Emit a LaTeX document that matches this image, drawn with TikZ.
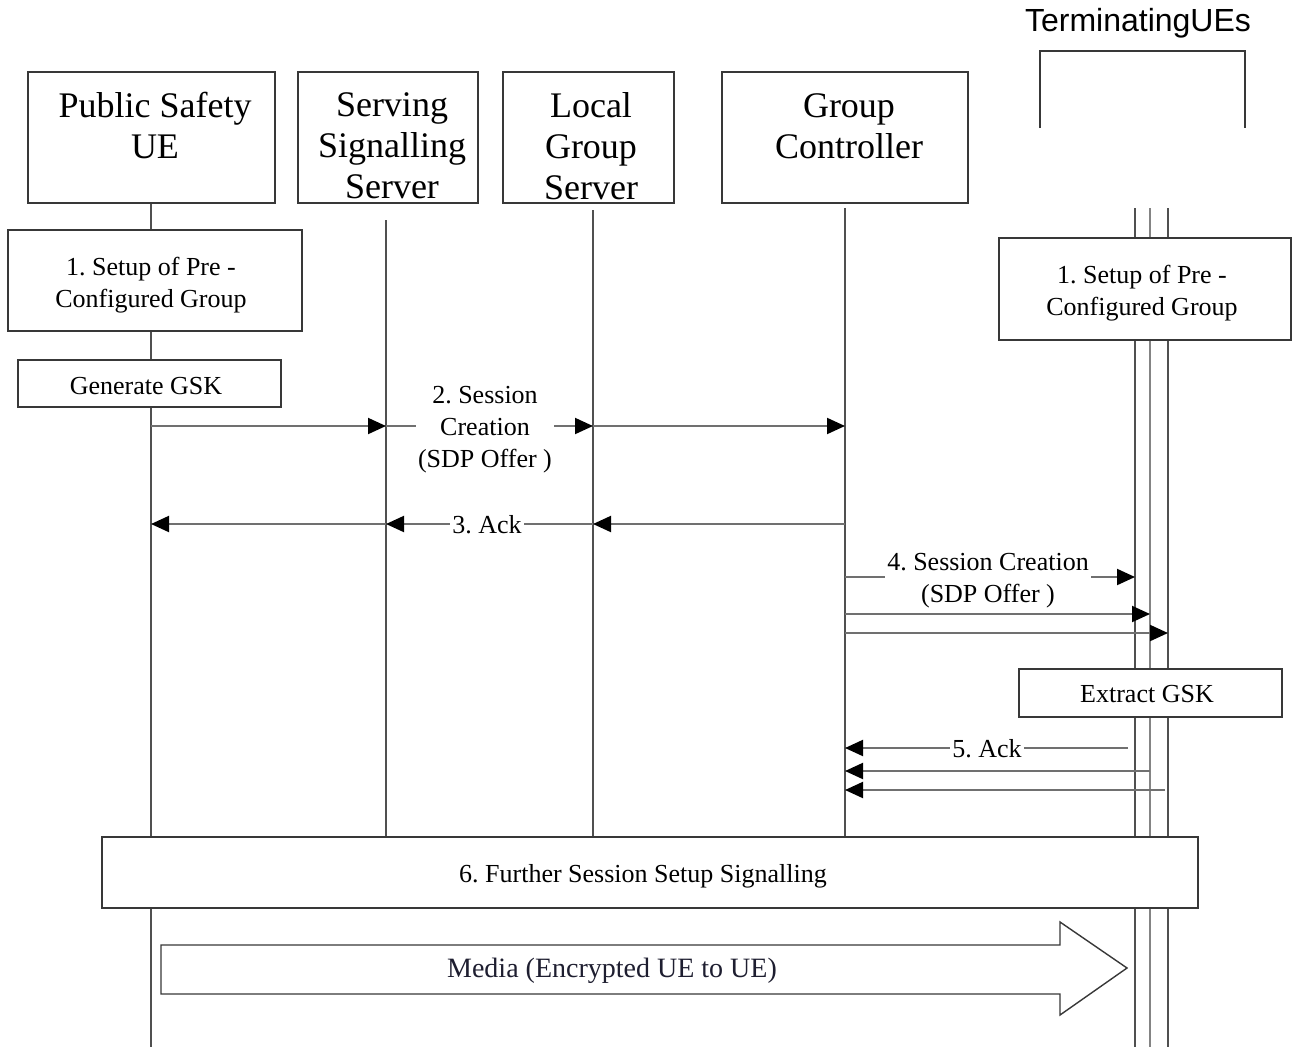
\documentclass[tikz,border=0pt]{standalone}
\usepackage{fontspec}
\setmainfont{Liberation Serif}
\newfontfamily\arialfont{Liberation Sans}
\usetikzlibrary{arrows.meta,calc}
\frenchspacing

\definecolor{boxcol}{HTML}{383838}
\definecolor{lifecol}{HTML}{505050}
\definecolor{msgcol}{HTML}{707070}
\definecolor{mediatext}{HTML}{1E1E30}

\begin{document}
\begin{tikzpicture}[x=1pt,y=-1pt,
  box/.style={draw=boxcol, line width=1.6pt, fill=white, inner sep=0pt},
  boxtext/.style={inner sep=0pt, font=\fontsize{26}{32}\selectfont, align=center},
  hdrtext/.style={font=\fontsize{36}{41}\selectfont, align=center,
    inner sep=0pt, anchor=north},
  life/.style={draw=lifecol, line width=1.6pt},
  lifelight/.style={draw=lifecol!70, line width=1.6pt},
  msg/.style={draw=msgcol, line width=2pt,
    -{Triangle[length=18pt,width=16pt,color=black]}},
  lbl/.style={fill=white, inner sep=2pt, font=\fontsize{26}{32}\selectfont,
    align=center}
]
\useasboundingbox (0,0) rectangle (1292,1047);

% lifeline x positions
\coordinate (xA) at (151,0);
\coordinate (xB) at (386,0);
\coordinate (xC) at (593,0);
\coordinate (xD) at (845,0);
\coordinate (xT1) at (1135,0);
\coordinate (xT2) at (1150,0);
\coordinate (xT3) at (1168,0);

% message rows
\coordinate (r2) at (0,426);
\coordinate (r3) at (0,524);
\coordinate (r4) at (0,577);
\coordinate (r4b) at (0,614);
\coordinate (r4c) at (0,633);
\coordinate (r5) at (0,748);
\coordinate (r5b) at (0,771);
\coordinate (r5c) at (0,790);

% lifeline ends
\coordinate (aTop) at (151,203);   \coordinate (aBot) at (151,1047);
\coordinate (bTop) at (386,220);   \coordinate (bBot) at (386,836);
\coordinate (cTop) at (593,210);   \coordinate (cBot) at (593,836);
\coordinate (dTop) at (845,208);   \coordinate (dBot) at (845,836);
\coordinate (t1Top) at (1135,208); \coordinate (t1Bot) at (1135,1047);
\coordinate (t2Top) at (1150,208); \coordinate (t2Bot) at (1150,1047);
\coordinate (t3Top) at (1168,208); \coordinate (t3Bot) at (1168,1047);

% lifelines
\draw[life] (aTop) -- (aBot);
\draw[life] (bTop) -- (bBot);
\draw[life] (cTop) -- (cBot);
\draw[life] (dTop) -- (dBot);
\draw[life] (t1Top) -- (t1Bot);
\draw[lifelight] (t2Top) -- (t2Bot);
\draw[life] (t3Top) -- (t3Bot);

% header boxes
\node[box, minimum width=247pt, minimum height=131pt] (psue) at (151.5,137.5) {};
\node[box, minimum width=180pt, minimum height=131pt] (sss) at (388,137.5) {};
\node[box, minimum width=171pt, minimum height=131pt] (lgs) at (588.5,137.5) {};
\node[box, minimum width=246pt, minimum height=131pt] (gc) at (845,137.5) {};
\node[hdrtext] (psuet) at (155,92) {Public Safety\\UE};
\node[hdrtext] (ssst) at (392,92.5) {Serving\\Signalling\\Server};
\node[hdrtext] (lgst) at (591,92) {Local\\Group\\Server};
\node[hdrtext] (gct) at (849,93) {Group\\Controller};

% terminating UEs bracket
\node[font=\arialfont\fontsize{32}{36}\selectfont, inner sep=0pt] (termt) at (1138,23) {TerminatingUEs};
\coordinate (brL) at (1040,128);
\coordinate (brR) at (1245,128);
\draw[draw=boxcol, line width=1.8pt] (brL) -- (brL |- 0,51) -- (brR |- 0,51) -- (brR);

% step boxes
\node[box, minimum width=294pt, minimum height=101pt] (setupL) at (155,280.5) {};
\node[box, minimum width=292pt, minimum height=102pt] (setupR) at (1145,289) {};
\node[box, minimum width=263pt, minimum height=47pt] (gengsk) at (149.5,383.5) {};
\node[box, minimum width=263pt, minimum height=48pt] (extract) at (1150.5,693) {};
\node[box, minimum width=1096pt, minimum height=71pt] (further) at (650,872.5) {};
\node[boxtext] (setupLt) at (151,285.5) {1. Setup of Pre -\\Configured Group};
\node[boxtext] (setupRt) at (1142,293) {1. Setup of Pre -\\Configured Group};
\node[boxtext] (gengskt) at (146,386.5) {Generate GSK};
\node[boxtext] (extractt) at (1147,694.5) {Extract GSK};
\node[boxtext] (furthert) at (643,876.5) {6. Further Session Setup Signalling};

% 2. session creation
\draw[msg] (xA|-r2) -- (xB|-r2);
\draw[msg] (xB|-r2) -- (xC|-r2);
\draw[msg] (xC|-r2) -- (xD|-r2);
\node[lbl] (m2) at (485,430) {2. Session\\Creation\\(SDP Offer )};

% 3. ack
\draw[msg] (xD|-r3) -- (xC|-r3);
\draw[msg] (xC|-r3) -- (xB|-r3);
\draw[msg] (xB|-r3) -- (xA|-r3);
\node[lbl] (m3) at (487,525) {3. Ack};

% 4. session creation to terminating UEs
\draw[msg] (xD|-r4) -- (xT1|-r4);
\draw[msg] (xD|-r4b) -- (xT2|-r4b);
\draw[msg] (xD|-r4c) -- (xT3|-r4c);
\node[lbl] (m4) at (988,581) {4. Session Creation\\(SDP Offer )};

% 5. ack from terminating UEs
\draw[msg] ($(xT1|-r5)+(-7,0)$) -- (xD|-r5);
\draw[msg] (xT2|-r5b) -- (xD|-r5b);
\draw[msg] ($(xT3|-r5c)+(-3,0)$) -- (xD|-r5c);
\node[lbl] (m5) at (987,749) {5. Ack};

% media block arrow
\draw[draw=boxcol, line width=1.4pt, fill=white]
  (161,945) -- (1060,945) -- (1060,922) -- (1127,968) -- (1060,1015)
  -- (1060,994) -- (161,994) -- cycle;
\node[font=\fontsize{28}{33}\selectfont, text=mediatext] (media) at (612,971) {Media (Encrypted UE to UE)};

\end{tikzpicture}
\end{document}
